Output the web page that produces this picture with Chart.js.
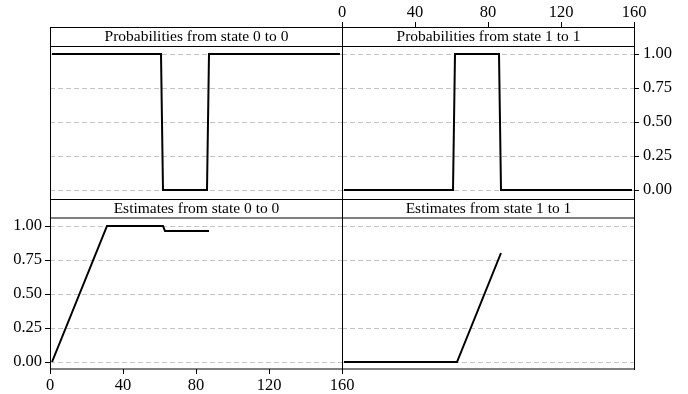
<!DOCTYPE html>
<html>
<head>
<meta charset="utf-8">
<script src="https://cdn.jsdelivr.net/npm/chart.js@4.4.1/dist/chart.umd.min.js"></script>
<style>
  html, body { margin: 0; padding: 0; background: #fff; }
  #wrap { position: relative; width: 688px; height: 394px; }
  #wrap canvas { position: absolute; left: 0; top: 0; }
</style>
</head>
<body>
<div id="wrap">
  <canvas id="probChart00" width="688" height="394"></canvas>
  <canvas id="probChart11" width="688" height="394"></canvas>
  <canvas id="estChart00" width="688" height="394"></canvas>
  <canvas id="estChart11" width="688" height="394"></canvas>
</div>
<script>
// Data
const probTime = [1, 61, 62, 86, 87, 159];
const prob00 = [1, 1, 0, 0, 1, 1];
const prob11 = [0, 0, 1, 1, 0, 0];

const est00Time = [1, 31, 62, 63, 87];
const est00 = [0, 1, 1, 0.965, 0.965];
const est11Time = [1, 63, 87];
const est11 = [0, 0, 0.8];

const xTicks = [0, 40, 80, 120, 160];
const yTicks = [0, 0.25, 0.5, 0.75, 1];

const titles = {
    prob00: 'Probabilities from state 0 to 0',
    prob11: 'Probabilities from state 1 to 1',
    est00: 'Estimates from state 0 to 0',
    est11: 'Estimates from state 1 to 1'
};

// Page layout (pixels)
const W = 688, H = 394;
const colLeft = { left: 50, right: 342 };
const colRight = { left: 342, right: 634 };
const rowTop = { top: 27, strip: 46, bottom: 199, one: 54, zero: 190 };
const rowBottom = { top: 199, strip: 218, bottom: 369, one: 226, zero: 361.7 };
const serif = '"Liberation Serif", "Times New Roman", serif';

Chart.defaults.font.family = serif;
Chart.defaults.font.size = 16.5;
Chart.defaults.color = '#000';

function yRange(row) {
    const perUnit = row.zero - row.one;
    return {
        min: -(row.bottom - row.zero) / perUnit,
        max: 1 + (row.one - row.top) / perUnit
    };
}

function toPoints(xs, ys) {
    return xs.map((x, i) => ({ x: x, y: ys[i] }));
}

// Draws the lattice-style strip and the panel box
const panelFrame = {
    id: 'panelFrame',
    afterDraw(chart, args, opts) {
        const { ctx, chartArea: a } = chart;
        const off = opts.soft ? 0 : 0.5;
        ctx.save();
        ctx.strokeStyle = '#000';
        ctx.lineWidth = 1;
        ctx.beginPath();
        ctx.moveTo(a.left + 0.5, a.top + 0.5);
        ctx.lineTo(a.right + 0.5, a.top + 0.5);
        ctx.moveTo(a.left + 0.5, a.top);
        ctx.lineTo(a.left + 0.5, a.bottom + 1);
        ctx.moveTo(a.right + 0.5, a.top);
        ctx.lineTo(a.right + 0.5, a.bottom + 1);
        ctx.moveTo(a.left, opts.strip + off);
        ctx.lineTo(a.right + 1, opts.strip + off);
        ctx.moveTo(a.left, a.bottom + off);
        ctx.lineTo(a.right + 1, a.bottom + off);
        ctx.stroke();
        ctx.fillStyle = '#000';
        ctx.font = '15.5px ' + serif;
        ctx.textAlign = 'center';
        ctx.textBaseline = 'middle';
        ctx.fillText(opts.title, (a.left + a.right) / 2 + 0.5, (a.top + opts.strip) / 2 + 0.5);
        ctx.restore();
    }
};

function xScale(position, show) {
    return {
        type: 'linear',
        position: position,
        min: 0,
        max: 160,
        display: show,
        alignToPixels: true,
        afterBuildTicks: scale => { scale.ticks = xTicks.map(v => ({ value: v })); },
        afterFit: scale => { scale.height = show ? (position === 'top' ? 27 : 25) : 0; },
        grid: { drawOnChartArea: false, drawTicks: true, tickLength: 5, tickColor: '#000', tickWidth: 1 },
        border: { display: false },
        ticks: { color: '#000', padding: position === 'top' ? -1 : 2, maxRotation: 0, autoSkip: false }
    };
}

function yScale(position, showLabels, row) {
    const r = yRange(row);
    return {
        type: 'linear',
        position: position,
        min: r.min,
        max: r.max,
        alignToPixels: true,
        afterBuildTicks: scale => { scale.ticks = yTicks.map(v => ({ value: v })); },
        afterFit: scale => { scale.width = showLabels ? (position === 'left' ? colLeft.left : W - colRight.right) : 0; },
        grid: { color: '#c4c4c4', lineWidth: 1, drawTicks: showLabels, tickLength: 5, tickColor: '#000', tickWidth: 1, tickBorderDash: [] },
        border: { display: false, dash: [5, 3] },
        ticks: { display: showLabels, color: '#000', padding: position === 'right' ? 4 : 3, callback: v => v.toFixed(2) }
    };
}

function makePanel(id, cfg) {
    return new Chart(document.getElementById(id), {
        type: 'line',
        data: {
            datasets: [{
                data: cfg.points,
                borderColor: '#000',
                borderWidth: 2,
                pointRadius: 0,
                tension: 0,
                fill: false
            }]
        },
        options: {
            responsive: false,
            animation: false,
            devicePixelRatio: 1,
            layout: { padding: cfg.padding },
            plugins: {
                legend: { display: false },
                tooltip: { enabled: false },
                panelFrame: { title: cfg.title, strip: cfg.row.strip, soft: cfg.soft }
            },
            scales: { x: cfg.x, y: cfg.y }
        },
        plugins: [panelFrame]
    });
}

makePanel('probChart00', {
    points: toPoints(probTime, prob00),
    title: titles.prob00,
    row: rowTop,
    padding: { left: colLeft.left, top: rowTop.top, right: W - colLeft.right, bottom: H - rowTop.bottom },
    x: xScale('bottom', false),
    y: yScale('left', false, rowTop)
});

makePanel('probChart11', {
    points: toPoints(probTime, prob11),
    title: titles.prob11,
    row: rowTop,
    padding: { left: colRight.left, top: 0, right: 0, bottom: H - rowTop.bottom },
    x: xScale('top', true),
    y: yScale('right', true, rowTop)
});

makePanel('estChart00', {
    points: toPoints(est00Time, est00),
    title: titles.est00,
    row: rowBottom,
    soft: true,
    padding: { left: 0, top: rowBottom.top, right: W - colLeft.right, bottom: 0 },
    x: xScale('bottom', true),
    y: yScale('left', true, rowBottom)
});

makePanel('estChart11', {
    points: toPoints(est11Time, est11),
    title: titles.est11,
    row: rowBottom,
    soft: true,
    padding: { left: colRight.left, top: rowBottom.top, right: W - colRight.right, bottom: H - rowBottom.bottom },
    x: xScale('bottom', false),
    y: yScale('left', false, rowBottom)
});
</script>
</body>
</html>
